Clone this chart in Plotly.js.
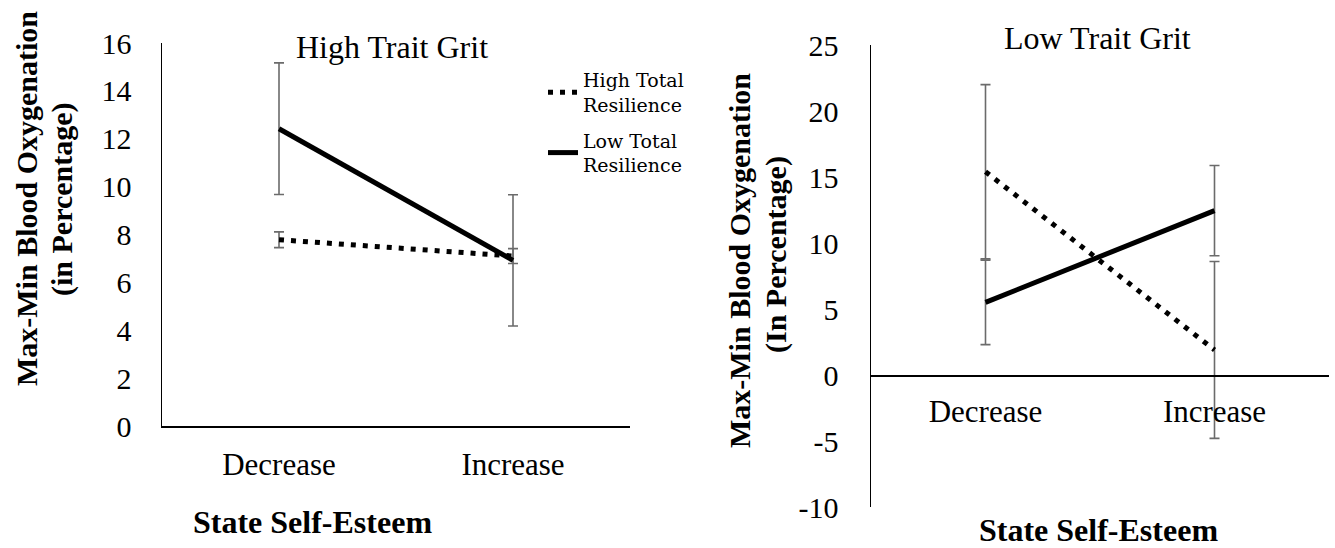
<!DOCTYPE html>
<html>
<head>
<meta charset="utf-8">
<script src="https://cdn.plot.ly/plotly-3.0.1.min.js"></script>
<style>html,body{margin:0;padding:0;background:#fff;}#chart{width:1335px;height:548px;}</style>
</head>
<body>
<div id="chart"></div>
<script>
// ---- data ----
const categories = ['Decrease', 'Increase'];
const seriesNames = ['High Total<br>Resilience', 'Low Total<br>Resilience'];
// High Trait Grit panel
const highGritHighRes = [7.78, 7.1];
const highGritHighResErr = [0.33, 0.31];
const highGritLowRes = [12.42, 6.92];
const highGritLowResErr = [2.75, 2.74];
// Low Trait Grit panel
const lowGritHighRes = [15.4, 1.9];
const lowGritHighResErr = [6.6, 6.7];
const lowGritLowRes = [5.5, 12.45];
const lowGritLowResErr = [3.2, 3.42];
// axis ticks
const leftTicks = [0, 2, 4, 6, 8, 10, 12, 14, 16];
const rightTicks = [-10, -5, 0, 5, 10, 15, 20, 25];

const W = 1335, H = 548;
const px = v => v / W;
const py = v => (H - v) / H;

const serif = 'Liberation Serif, Times New Roman, serif';
const errColor = '#6b6b6b';
const dotDash = '5px,7px';

function trace(y, err, xa, ya, dash, name, showLegend) {
  return {
    type: 'scatter', mode: 'lines', x: categories, y: y,
    xaxis: xa, yaxis: ya, name: name, showlegend: showLegend,
    legendgroup: name,
    line: {color: '#000', width: 5, dash: dash},
    error_y: {type: 'data', array: err, visible: true, color: errColor, thickness: 1.6, width: 5},
    hoverinfo: 'skip'
  };
}

const data = [
  trace(highGritHighRes, highGritHighResErr, 'x', 'y', dotDash, seriesNames[0], true),
  trace(highGritLowRes, highGritLowResErr, 'x', 'y', 'solid', seriesNames[1], true),
  trace(lowGritHighRes, lowGritHighResErr, 'x2', 'y2', dotDash, seriesNames[0], false),
  trace(lowGritLowRes, lowGritLowResErr, 'x2', 'y2', 'solid', seriesNames[1], false)
];

const rightRange = [-10, 25];
const rightDom = [py(507), py(45)];
const zeroPos = rightDom[0] + (0 - rightRange[0]) / (rightRange[1] - rightRange[0]) * (rightDom[1] - rightDom[0]);

const tickFont = {family: serif, size: 30, color: '#000'};
const catFont = {family: serif, size: 31, color: '#000'};
const annFont = {family: serif, size: 32, color: '#000'};
const yTitleFont = {family: serif, size: 30, color: '#000'};

function ann(text, x, y, font, angle) {
  return {text: text, xref: 'paper', yref: 'paper', x: px(x), y: py(y), xanchor: 'center', yanchor: 'middle',
          textangle: angle || 0, showarrow: false, font: font};
}

const layout = {
  width: W, height: H,
  margin: {l: 0, r: 0, t: 0, b: 0},
  paper_bgcolor: '#fff', plot_bgcolor: '#fff',
  showlegend: true,
  legend: {
    x: px(543), y: py(61), xanchor: 'left', yanchor: 'top',
    font: {family: 'DejaVu Serif, serif', size: 19, color: '#000'},
    bgcolor: 'rgba(0,0,0,0)', borderwidth: 0, itemwidth: 30,
    tracegroupgap: 8, traceorder: 'grouped'
  },
  xaxis: {
    domain: [px(162), px(630)], anchor: 'y', type: 'category', range: [-0.5, 1.5],
    showline: true, linecolor: '#000', linewidth: 1.5, showgrid: false, zeroline: false,
    ticks: '', tickfont: catFont, ticklabelstandoff: 10
  },
  yaxis: {
    domain: [py(426), py(43)], anchor: 'x', range: [0, 16], tickvals: leftTicks,
    ticktext: leftTicks.map(String),
    showline: true, linecolor: '#000', linewidth: 1.5, showgrid: false, zeroline: false,
    ticks: '', tickfont: tickFont, ticklabelstandoff: 23
  },
  xaxis2: {
    domain: [px(871), px(1329)], anchor: 'free', position: zeroPos, type: 'category', range: [-0.5, 1.5],
    showline: true, linecolor: '#000', linewidth: 1.5, showgrid: false, zeroline: false,
    ticks: '', tickfont: catFont, ticklabelstandoff: 8
  },
  yaxis2: {
    domain: rightDom, anchor: 'x2', range: rightRange, tickvals: rightTicks,
    ticktext: rightTicks.map(String),
    showline: true, linecolor: '#000', linewidth: 1.5, showgrid: false, zeroline: false,
    ticks: '', tickfont: tickFont, ticklabelstandoff: 25
  },
  annotations: [
    ann('High Trait Grit', 392, 47, annFont),
    ann('Low Trait Grit', 1097, 38, annFont),
    ann('<b>State Self-Esteem</b>', 312, 522, annFont),
    ann('<b>State Self-Esteem</b>', 1098, 530, annFont),
    ann('<b>Max-Min Blood Oxygenation</b>', 26, 199, yTitleFont, -90),
    ann('<b>(in Percentage)</b>', 62, 199, yTitleFont, -90),
    ann('<b>Max-Min Blood Oxygenation</b>', 739, 260, yTitleFont, -90),
    ann('<b>(In Percentage)</b>', 776, 255, yTitleFont, -90)
  ]
};

Plotly.newPlot('chart', data, layout, {staticPlot: true, displayModeBar: false});
</script>
</body>
</html>
